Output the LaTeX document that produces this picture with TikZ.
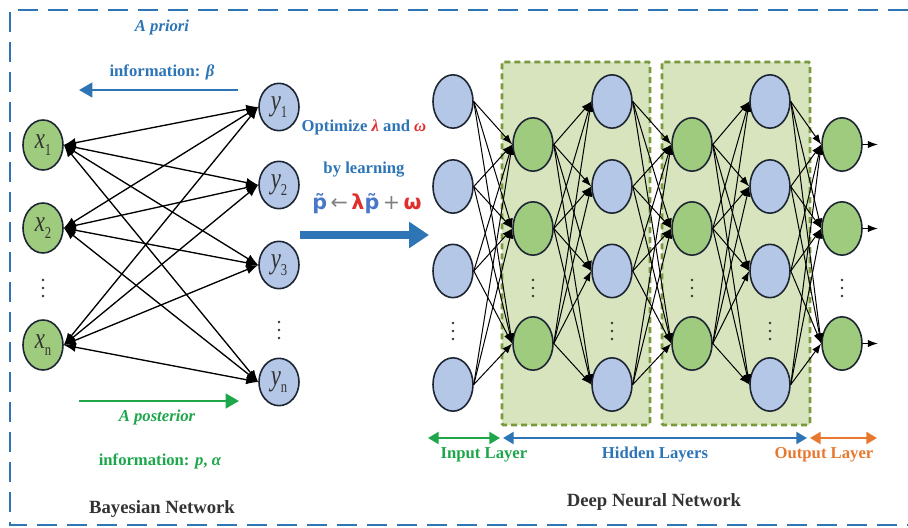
\documentclass[tikz,border=0pt]{standalone}
\usepackage{fontspec}
\usepackage{graphicx}
\setmainfont{Liberation Serif}
\newfontfamily\djv{DejaVu Sans}
\usetikzlibrary{arrows.meta,shapes.geometric}
\definecolor{tblue}{HTML}{2E75B6}
\definecolor{tgreen}{HTML}{1DA64A}
\definecolor{torange}{HTML}{E8782E}
\definecolor{tred}{HTML}{E0302E}
\definecolor{tdark}{HTML}{333333}
\definecolor{nblue}{HTML}{B4C7E7}
\definecolor{ngreen}{HTML}{9FCB7E}
\definecolor{nedge}{HTML}{1E2533}
\definecolor{boxfill}{HTML}{D7E4BD}
\definecolor{boxline}{HTML}{789A3D}
\definecolor{fblue}{HTML}{4A78C8}
\newcommand\varlab[2]{\scalebox{0.95}[1.25]{\fontsize{18}{18}\selectfont\itshape #1\raisebox{-0.5ex}{\fontsize{10}{10}\selectfont\upshape #2}}}
\begin{document}
\begin{tikzpicture}[x=0.75pt,y=-0.75pt,
  bx/.style={ellipse,draw=nedge,line width=1.2pt,fill=ngreen,minimum width=30pt,minimum height=37.5pt,inner sep=0pt,text=tdark},
  by/.style={ellipse,draw=nedge,line width=1.2pt,fill=nblue,minimum width=30pt,minimum height=35.5pt,inner sep=0pt,text=tdark},
  dnb/.style={ellipse,draw=nedge,line width=1.2pt,fill=nblue,minimum width=30pt,minimum height=40pt,inner sep=0pt},
  dng/.style={ellipse,draw=nedge,line width=1.2pt,fill=ngreen,minimum width=30pt,minimum height=40pt,inner sep=0pt},
  bedge/.style={line width=1pt,{Latex[length=9pt,width=7pt]}-{Latex[length=9pt,width=7pt]}},
  dedge/.style={line width=0.75pt,-{Latex[length=7.5pt,width=5.5pt]}},
  lab/.style={font=\fontsize{12.5}{14}\selectfont\bfseries},
  title/.style={font=\fontsize{14}{16}\selectfont\bfseries,text=tdark},
  hbox/.style={draw=boxline,fill=boxfill,line width=2.2pt,dash pattern=on 4.5pt off 3pt,rounded corners=1pt},
  vdot/.style={fill=tdark,radius=1.1pt}
]
\useasboundingbox (0,0) rectangle (908,528);
% outer dashed frame
\draw[tblue,line width=1.6pt,dash pattern=on 15pt off 7.5pt] (908,10) -- (10,10) -- (10,525) -- (908,525);

% ---------------- Bayesian network ----------------
\node[bx] (x1) at (43,145) {\varlab{x}{1}};
\node[bx] (x2) at (43,228) {\varlab{x}{2}};
\node[bx] (xn) at (43,345) {\varlab{x}{n}};
\node[by] (y1) at (279,107) {\varlab{y}{1}};
\node[by] (y2) at (279,185) {\varlab{y}{2}};
\node[by] (y3) at (279,265) {\varlab{y}{3}};
\node[by] (yn) at (279,382) {\varlab{y}{n}};
\foreach \yy in {280,288,296} \fill[vdot] (43,\yy) circle;
\foreach \yy in {322,330,338} \fill[vdot] (279,\yy) circle;
\foreach \a in {x1,x2,xn}
  \foreach \b in {y1,y2,y3,yn}
    \draw[bedge] (\a.east) -- (\b.west);

\node[lab,text=tblue,font=\fontsize{12.5}{14}\selectfont\bfseries\itshape] (apriori) at (162,27) {A priori};
\node[lab,text=tblue] (infob) at (162,72) {information: \textit{β}};
\coordinate (pa1) at (238,90);
\coordinate (pa2) at (79,90);
\draw[tblue,line width=1.8pt,-{Triangle[length=10pt,width=11pt]}] (pa1) -- (pa2);

\coordinate (po1) at (79,401);
\coordinate (po2) at (239,401);
\draw[tgreen,line width=1.8pt,-{Triangle[length=10pt,width=11pt]}] (po1) -- (po2);
\node[lab,text=tgreen,font=\fontsize{12.5}{14}\selectfont\bfseries\itshape] (apost) at (157,417) {A posterior};
\node[lab,text=tgreen] (infop) at (160,461) {information: \textit{p}, \textit{α}};
\node[title] (bntitle) at (162,509) {Bayesian Network};

% ---------------- middle ----------------
\node[lab,text=tblue] (opt) at (364,127) {Optimize \textcolor{tred}{\textit{λ}} and \textcolor{tred}{\textit{ω}}};
\node[lab,text=tblue] (bylearn) at (364,170) {by learning};
\node[font=\djv\bfseries\fontsize{15.5}{17}\selectfont] (formula) at (367,204)
  {\textcolor{fblue}{p̃}\,\textcolor{gray}{\mdseries←}\,\textcolor{tred}{λ}\textcolor{fblue}{p̃}\,\textcolor{gray}{\mdseries+}\,\textcolor{tred}{ω}};
\coordinate (ba1) at (300,235);
\coordinate (ba2) at (429,235);
\draw[tblue,line width=6pt,-{Triangle[length=15pt,width=19pt]}] (ba1) -- (ba2);

% ---------------- Deep neural network ----------------
\draw[hbox] (502,62) rectangle (650,425);
\draw[hbox] (662,62) rectangle (810,425);

\foreach \i/\yy in {1/101.5,2/186.5,3/271,4/384.5} {
  \node[dnb] (a\i) at (453,\yy) {};
  \node[dnb] (c\i) at (612,\yy) {};
  \node[dnb] (e\i) at (770,\yy) {};
}
\foreach \i/\yy in {1/144.5,2/228.5,3/343.5} {
  \node[dng] (b\i) at (533,\yy) {};
  \node[dng] (d\i) at (692,\yy) {};
  \node[dng] (f\i) at (842,\yy) {};
}
\foreach \xx in {453,612,770}
  \foreach \yy in {323,331,339} \fill[vdot] (\xx,\yy) circle;
\foreach \xx in {533,692,842}
  \foreach \yy in {280,288,296} \fill[vdot] (\xx,\yy) circle;

\foreach \i in {1,2,3,4}
  \foreach \j in {1,2,3} {
    \draw[dedge] (a\i.east) -- (b\j.west);
    \draw[dedge] (b\j.east) -- (c\i.west);
    \draw[dedge] (c\i.east) -- (d\j.west);
    \draw[dedge] (d\j.east) -- (e\i.west);
    \draw[dedge] (e\i.east) -- (f\j.west);
  }
\draw[dedge] (f1.east) -- ++(15,0) coordinate (o1);
\draw[dedge] (f2.east) -- ++(15,0) coordinate (o2);
\draw[dedge] (f3.east) -- ++(15,0) coordinate (o3);

% layer bars
\coordinate (l0) at (428,438);
\coordinate (l1) at (500,438);
\coordinate (l2) at (503,438);
\coordinate (l3) at (807,438);
\coordinate (l4) at (810,438);
\coordinate (l5) at (877,438);
\draw[tgreen,line width=1.6pt,{Triangle[length=8pt,width=9pt]}-{Triangle[length=8pt,width=9pt]}] (l0) -- (l1);
\draw[tblue,line width=1.6pt,{Triangle[length=8pt,width=9pt]}-{Triangle[length=8pt,width=9pt]}] (l2) -- (l3);
\draw[torange,line width=1.6pt,{Triangle[length=8pt,width=9pt]}-{Triangle[length=8pt,width=9pt]}] (l4) -- (l5);
\node[lab,text=tgreen] (inl) at (484,455) {Input Layer};
\node[lab,text=tblue] (hidl) at (655,455) {Hidden Layers};
\node[lab,text=torange] (outl) at (824,455) {Output Layer};
\node[title] (dnntitle) at (654,502) {Deep Neural Network};
\end{tikzpicture}
\end{document}
